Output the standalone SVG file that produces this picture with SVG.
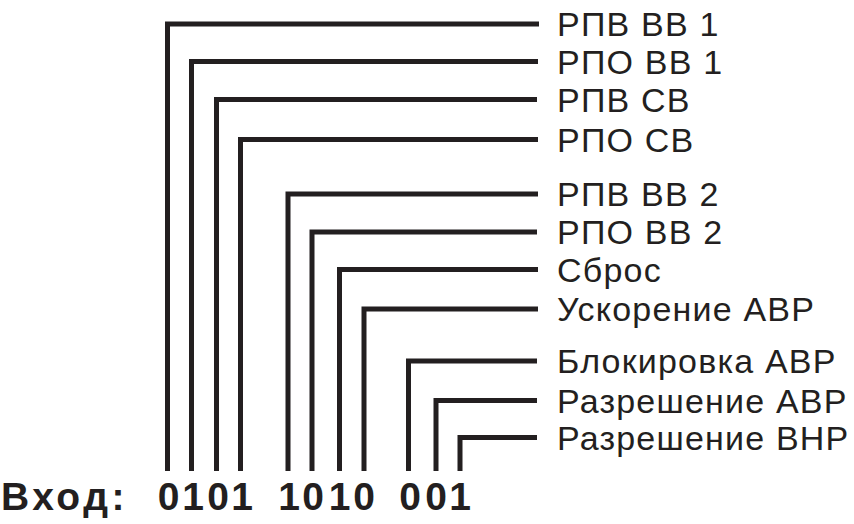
<svg xmlns="http://www.w3.org/2000/svg" width="854" height="524" viewBox="0 0 854 524">
  <style>
    .wire { fill: none; stroke: #231f20; stroke-width: 5; stroke-linejoin: miter; stroke-linecap: butt; }
    .lbl { font-family: "Liberation Sans", Arial, sans-serif; font-size: 34px; letter-spacing: 1.2px; fill: #231f20; }
    .bit { font-family: "Liberation Sans", Arial, sans-serif; font-size: 39px; font-weight: bold; fill: #231f20; text-anchor: middle; }
    .cap { font-family: "Liberation Sans", Arial, sans-serif; font-size: 39px; font-weight: bold; fill: #231f20; letter-spacing: 3.5px; }
  </style>

  <!-- signal wires: from each input bit up and across to its label -->
  <g id="connectors">
    <path class="wire" d="M167.5 471 V24 H539"/>
    <path class="wire" d="M191.5 471 V61.5 H538"/>
    <path class="wire" d="M216.5 471 V99.5 H537"/>
    <path class="wire" d="M240.5 471 V139.5 H538"/>
    <path class="wire" d="M288 471 V194 H538"/>
    <path class="wire" d="M312 471 V232 H537"/>
    <path class="wire" d="M339.5 471 V269.5 H538"/>
    <path class="wire" d="M364 471 V309 H538"/>
    <path class="wire" d="M408.5 471 V361 H537"/>
    <path class="wire" d="M436 471 V400.5 H537"/>
    <path class="wire" d="M460 471 V437.5 H537"/>
  </g>

  <!-- signal names -->
  <g id="sig-rpv-vv1"><text class="lbl" x="557" y="36">РПВ ВВ 1</text></g>
  <g id="sig-rpo-vv1"><text class="lbl" x="557" y="73.5">РПО ВВ 1</text></g>
  <g id="sig-rpv-sv"><text class="lbl" x="557" y="111.5">РПВ СВ</text></g>
  <g id="sig-rpo-sv"><text class="lbl" x="557" y="151.5">РПО СВ</text></g>
  <g id="sig-rpv-vv2"><text class="lbl" x="557" y="206">РПВ ВВ 2</text></g>
  <g id="sig-rpo-vv2"><text class="lbl" x="557" y="244">РПО ВВ 2</text></g>
  <g id="sig-reset"><text class="lbl" x="557" y="281.5">Сброс</text></g>
  <g id="sig-avr-accel"><text class="lbl" x="557" y="321">Ускорение АВР</text></g>
  <g id="sig-avr-block"><text class="lbl" x="557" y="373">Блокировка АВР</text></g>
  <g id="sig-avr-enable"><text class="lbl" x="557" y="412.5">Разрешение АВР</text></g>
  <g id="sig-vnr-enable"><text class="lbl" x="557" y="449.5">Разрешение ВНР</text></g>

  <!-- input word -->
  <g id="input-caption"><text class="cap" x="1" y="510">Вход:</text></g>
  <g id="input-bits">
    <text class="bit" x="168.5 193 218 242" y="510">0101</text>
    <text class="bit" x="289 313 339.5 364" y="510">1010</text>
    <text class="bit" x="410 436 460" y="510">001</text>
  </g>
</svg>
